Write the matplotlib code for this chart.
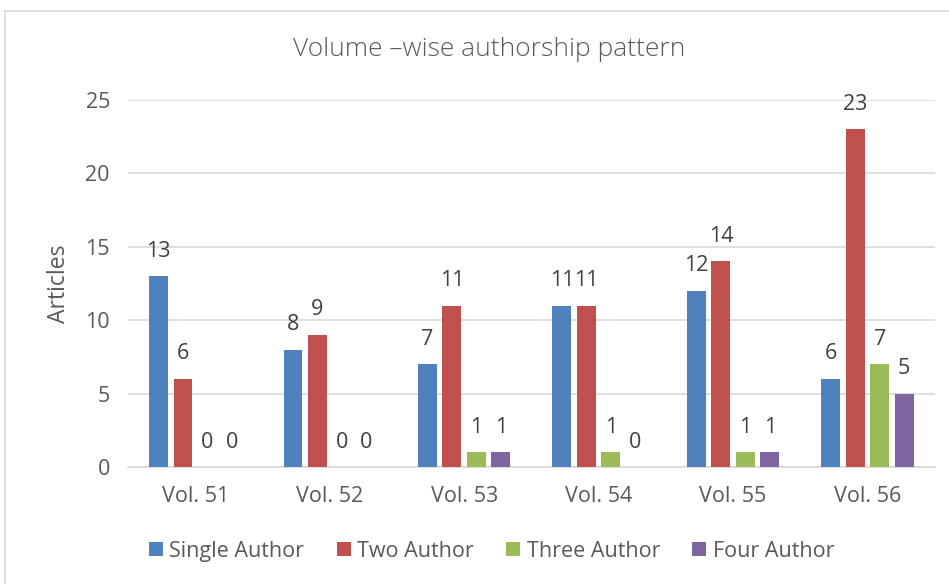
import numpy as np
import matplotlib.pyplot as plt
from matplotlib.lines import Line2D

volumes = ["Vol. 51", "Vol. 52", "Vol. 53", "Vol. 54", "Vol. 55", "Vol. 56"]
single_author = [13, 8, 7, 11, 12, 6]
two_author = [6, 9, 11, 11, 14, 23]
three_author = [0, 0, 1, 1, 1, 7]
four_author = [0, 0, 1, 0, 1, 5]

series_names = ["Single Author", "Two Author", "Three Author", "Four Author"]
colores = ["#4F81BD", "#C0504D", "#9BBB59", "#8064A2"]

plt.rcParams['font.family'] = ['Open Sans', 'DejaVu Sans']
gris = "#595959"

fig = plt.figure(figsize=(9.49, 5.84), dpi=100)
ax = fig.add_axes([0.1349, 0.2003, 0.8501, 0.6285])

x = np.arange(len(volumes))
paso = 0.182
ancho = 0.141
datos = [single_author, two_author, three_author, four_author]

for i, (serie, nombre, color) in enumerate(zip(datos, series_names, colores)):
    pos = x + (i - 1.5) * paso
    ax.bar(pos, serie, width=ancho, color=color, label=nombre, zorder=3)
    for xp, v in zip(pos, serie):
        ax.annotate(str(v), (xp, v), xytext=(0, 18), textcoords="offset points",
                    ha="center", va="center", fontsize=15.5, color="#404040")

ax.set_xlim(-0.5, len(volumes) - 0.5)
ax.set_ylim(0, 25)
ax.set_yticks([0, 5, 10, 15, 20, 25])
ax.set_xticks(x)
ax.set_xticklabels(volumes)
ax.tick_params(axis="both", length=0, labelsize=15.5, colors=gris)
ax.tick_params(axis="y", pad=13)
ax.tick_params(axis="x", pad=14)
ax.grid(axis="y", color="#D9D9D9", linewidth=1.2, zorder=0)
for s in ["top", "right", "left"]:
    ax.spines[s].set_visible(False)
ax.spines["bottom"].set_color("#D9D9D9")
ax.spines["bottom"].set_linewidth(1.2)

ax.set_ylabel("Articles", fontsize=16.5, color=gris, labelpad=10)

fig.text(0.516, 0.915, "Volume \u2013wise authorship pattern", ha="center", va="center",
         fontsize=19, color=gris, fontweight="light")

fig.legend(loc="center", bbox_to_anchor=(0.518, 0.0565), ncol=4, frameon=False,
           fontsize=15.5, labelcolor=gris, handlelength=0.65, handleheight=0.65,
           handletextpad=0.3, columnspacing=1.5)

# borde del grafico
fig.add_artist(Line2D([5 / 949, 5 / 949], [0, 1 - 11 / 584], transform=fig.transFigure,
                      color="#D9D9D9", linewidth=1.2))
fig.add_artist(Line2D([5 / 949, 1], [1 - 11 / 584, 1 - 11 / 584], transform=fig.transFigure,
                      color="#D9D9D9", linewidth=1.2))

fig.savefig("out.png", dpi=100)
